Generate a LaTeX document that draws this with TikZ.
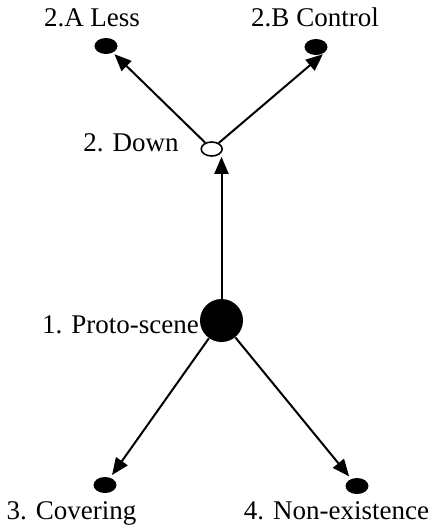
\documentclass[tikz,border=0pt]{standalone}
\usepackage{fontspec}
\setmainfont{Liberation Serif}
\usetikzlibrary{shapes.geometric,arrows.meta}

\begin{document}
\begin{tikzpicture}[x=0.5pt,y=-0.5pt,
	dot/.style={ellipse,fill=black,inner sep=0pt,minimum width=11.5pt,minimum height=8pt},
	opendot/.style={ellipse,draw,fill=white,line width=0.8pt,inner sep=0pt,minimum width=10.5pt,minimum height=7pt},
	bigdot/.style={circle,fill=black,inner sep=0pt,minimum size=21.5pt},
	lbl/.style={inner sep=0pt,anchor=base,font=\fontsize{13.5}{16}\selectfont},
	arr/.style={line width=1pt,-{Triangle[length=8.5pt,width=7pt]},shorten >=1pt}]
			\useasboundingbox (0,0) rectangle (428,526);
			\node[bigdot] (proto) at (221.5,320.5) {};
			\node[opendot] (down) at (211.7,149) {};
			\node[dot] (less) at (106,46) {};
			\node[dot] (control) at (316,47) {};
			\node[dot] (cover) at (105,485) {};
			\node[dot] (nonex) at (357,486) {};
			\node[lbl] (lless) at (92,26) {2.A Less};
			\node[lbl] (lcontrol) at (315,26) {2.B Control};
			\node[lbl] (ldown) at (131,151) {2. Down};
			\node[lbl] (lproto) at (120.5,333) {1. Proto-scene};
			\node[lbl] (lcover) at (71.5,519) {3. Covering};
			\node[lbl] (lnonex) at (336.5,519) {4. Non-existence};
			\draw[arr,shorten >=0pt] (proto.north) -- (proto.north |- down.south);
			\draw[arr] (down) -- (less);
			\draw[arr] (down) -- (control.south east);
			\draw[arr,shorten >=1.5pt] (proto) -- (cover);
			\draw[arr,shorten >=1.5pt] (proto) -- (nonex);
\end{tikzpicture}
\end{document}
